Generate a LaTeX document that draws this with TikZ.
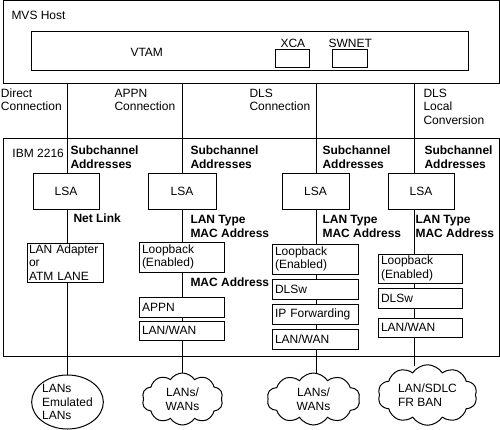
\documentclass[tikz,border=0pt]{standalone}
\usepackage{fontspec}
\setmainfont{Liberation Sans}
\usetikzlibrary{shapes.symbols,shapes.geometric}
\begin{document}
\begin{tikzpicture}[x=1pt,y=-1pt,line width=1pt,
  font=\fontsize{12}{13.6}\selectfont,
  txt/.style={anchor=base west,align=left,inner sep=0pt},
  btxt/.style={txt,font=\fontsize{12}{14.5}\selectfont\bfseries},
  frame/.style={draw,rectangle,inner sep=0pt,outer sep=0pt},
  blk/.style={draw,rectangle,inner xsep=3pt,inner ysep=0pt,outer sep=0pt,align=left},
  lsabox/.style={draw,rectangle,inner sep=0pt,outer sep=0pt,minimum width=67,minimum height=36},
  net/.style={draw,cloud,cloud puffs=10,cloud puff arc=115,inner sep=0pt,outer sep=0pt,align=center}]
\useasboundingbox (0,0) rectangle (500,429);
% host
\node[frame,minimum width=496,minimum height=82.5] (mvs) at (251,41.75) {};
\node[txt] (mvsl) at (11,19) {MVS Host};
\node[frame,minimum width=437,minimum height=39] (vtambox) at (249.5,50.5) {};
\node[txt] (vtam) at (130,56) {VTAM};
\node[frame,minimum width=34,minimum height=18] (xca) at (292,58) {};
\node[frame,minimum width=35,minimum height=18] (swnet) at (349.5,58) {};
\node[txt] (xcal) at (280,47) {XCA};
\node[txt] (swl) at (328,47) {SWNET};
% connection labels (anchor at baseline of last line)
\node[txt] (direct) at (0.5,110.6) {Direct\\Connection};
\node[txt] (appnc) at (114,110.6) {APPN\\Connection};
\node[txt] (dlsc) at (249,110.6) {DLS\\Connection};
\node[txt] (dlsl) at (423,124.2) {DLS\\Local\\Conversion};
% 2216
\node[frame,minimum width=496,minimum height=218] (ibm) at (251,247) {};
\node[txt] (ibml) at (12,157) {IBM 2216};
\node[btxt] (sub1) at (70,168.5) {Subchannel\\Addresses};
\node[btxt] (sub2) at (190,168.5) {Subchannel\\Addresses};
\node[btxt] (sub3) at (322,168.5) {Subchannel\\Addresses};
\node[btxt] (sub4) at (424,168.5) {Subchannel\\Addresses};
\node[lsabox,minimum width=66] (lsa1) at (66,191) {LSA};
\node[lsabox,minimum width=68] (lsa2) at (182,191) {LSA};
\node[lsabox] (lsa3) at (315.5,191) {LSA};
\node[lsabox,minimum width=66] (lsa4) at (421,191) {LSA};
\node[btxt] (netlink) at (73,222) {Net Link};
\node[btxt] (lt2) at (190,237.5) {LAN Type\\MAC Address};
\node[btxt] (lt3) at (322,237.5) {LAN Type\\MAC Address};
\node[btxt] (lt4) at (415,237.5) {LAN Type\\MAC Address};
\node[btxt] (mac2) at (190,286) {MAC Address};
% column 1
\node[blk,inner xsep=2pt,text width=72,minimum height=39] (lan1) at (65,262.5) {LAN Adapter\\or\\ATM LANE};
% column 2
\node[blk,text width=79,minimum height=30] (lb2) at (181.5,257) {Loopback\\(Enabled)};
\node[blk,text width=79,minimum height=20] (appn) at (181.5,307) {APPN};
\node[blk,text width=79,minimum height=19] (lw2) at (181.5,330.5) {LAN/WAN};
% column 3
\node[blk,text width=80,minimum height=30] (lb3) at (315,259) {Loopback\\(Enabled)};
\node[blk,text width=80,minimum height=20] (dlsw3) at (315,289) {DLSw};
\node[blk,text width=80,minimum height=20] (ipf) at (315,314) {IP Forwarding};
\node[blk,text width=80,minimum height=20] (lw3) at (315,339) {LAN/WAN};
% column 4
\node[blk,text width=78,minimum height=29] (lb4) at (420,268.5) {Loopback\\(Enabled)};
\node[blk,text width=78,minimum height=20] (dlsw4) at (420,298) {DLSw};
\node[blk,text width=78,minimum height=19] (lw4) at (420,327.5) {LAN/WAN};
% networks
\node[draw,ellipse,inner sep=0pt,outer sep=0pt,minimum width=65,minimum height=54,align=left] (em) at (67.5,402) {LANs\\Emulated\\LANs};
\node[net,minimum width=81,minimum height=52,aspect=1.6] (cl2) at (182.5,399) {LANs/\\WANs};
\node[net,minimum width=93,minimum height=52,aspect=1.8] (cl3) at (313.5,399) {LANs/\\WANs};
\node[net,minimum width=99,minimum height=60,aspect=1.7,align=left] (cl4) at (427.5,395) {LAN/SDLC\\FR BAN};
% column lines
\coordinate (k1) at (67,0);
\coordinate (k2) at (182,0);
\coordinate (k3) at (316,0);
\coordinate (k4) at (414,0);
\draw (k1 |- mvs.south) -- (k1 |- lsa1.north);
\draw (k1 |- lsa1.south) -- (k1 |- lan1.north);
\draw (k1 |- lan1.south) -- (k1 |- em.north);
\draw (k2 |- mvs.south) -- (k2 |- lsa2.north);
\draw (k2 |- lsa2.south) -- (k2 |- lb2.north);
\draw (k2 |- lb2.south) -- (k2 |- appn.north);
\draw (k2 |- appn.south) -- (k2 |- lw2.north);
\draw (k2 |- lw2.south) -- (k2 |- cl2.north);
\draw (k3 |- mvs.south) -- (k3 |- lsa3.north);
\draw (k3 |- lsa3.south) -- (k3 |- lb3.north);
\draw (k3 |- lb3.south) -- (k3 |- dlsw3.north);
\draw (k3 |- dlsw3.south) -- (k3 |- ipf.north);
\draw (k3 |- ipf.south) -- (k3 |- lw3.north);
\draw (k3 |- lw3.south) -- (k3 |- cl3.north);
\draw (k4 |- mvs.south) -- (k4 |- lsa4.north);
\draw (k4 |- lsa4.south) -- (k4 |- lb4.north);
\draw (k4 |- lb4.south) -- (k4 |- dlsw4.north);
\draw (k4 |- dlsw4.south) -- (k4 |- lw4.north);
\draw (k4 |- lw4.south) -- ([yshift=-1.5pt]k4 |- cl4.north);
\end{tikzpicture}
\end{document}
